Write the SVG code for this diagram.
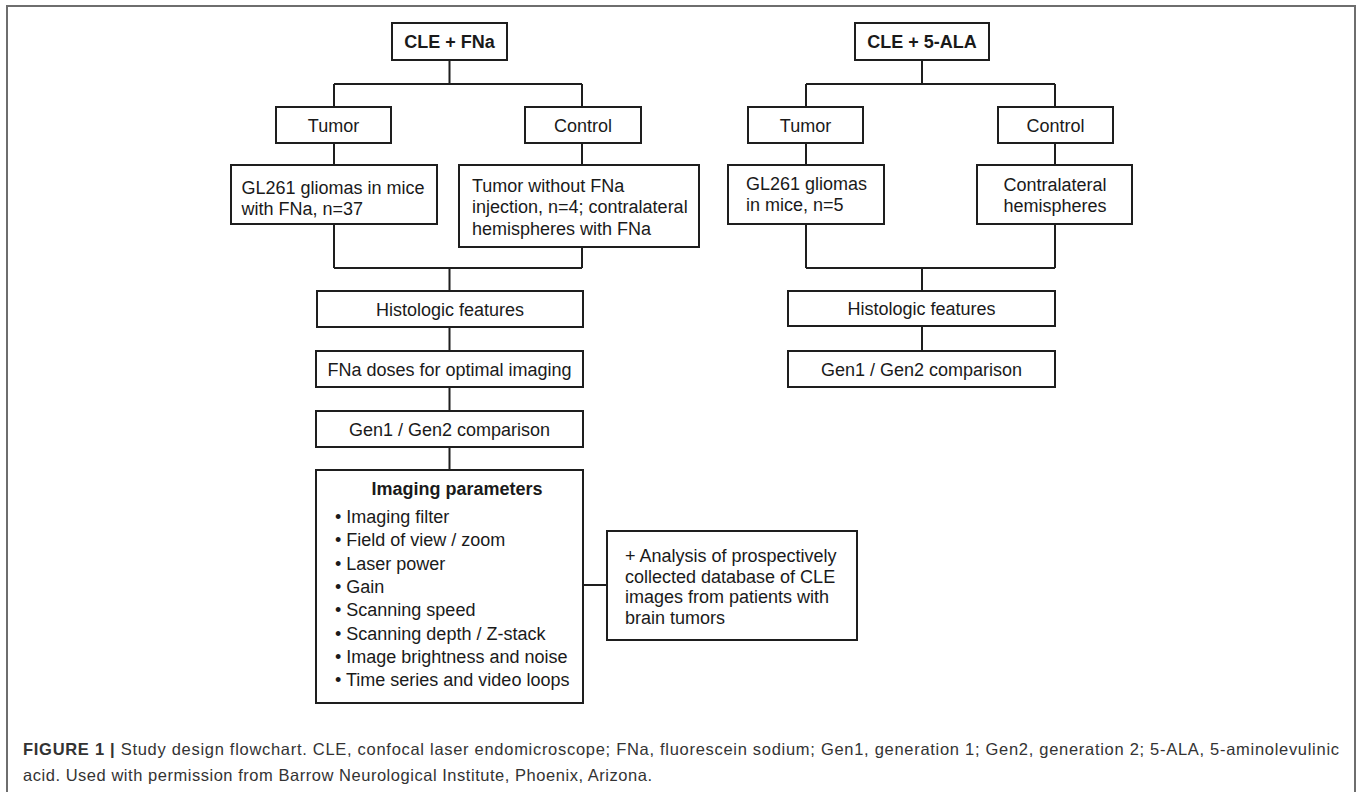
<svg xmlns="http://www.w3.org/2000/svg" width="1357" height="792" viewBox="0 0 1357 792">
<style>
.box{fill:#fff;stroke:#1e1e1e;stroke-width:2}
.ln{fill:none;stroke:#1e1e1e;stroke-width:2}
.t{font-family:"Liberation Sans",Arial,sans-serif;font-size:18px;fill:#1a1a1a}
.c{text-anchor:middle}
.b{font-weight:bold}
.cap{font-family:"Liberation Sans",Arial,sans-serif;font-size:16.5px;fill:#333}
</style>
<rect x="0" y="0" width="1357" height="792" fill="#fff"/>
<rect x="7" y="6" width="1348" height="800" fill="none" stroke="#6e6e6e" stroke-width="2"/>
<g id="connectors">
<path class="ln" d="M449.5 60V84M334 84H582M334 84V107M582 84V107M334 143V165M582 143V165M334 224V268M582 247V268M334 268H582M449.5 268V291M449.5 327V351M449.5 387V411M449.5 447V470M583 585H607"/>
<path class="ln" d="M922 60V84M806 84H1055M806 84V107M1055 84V107M806 143V165M1055 143V165M806 224V268M1055 224V268M806 268H1055M922 268V291M922 326V351"/>
</g>
<g id="cle-fna"><rect class="box" x="392" y="23" width="115" height="37"/><text class="t c b" x="449.5" y="48">CLE + FNa</text></g>
<g id="tumor-l"><rect class="box" x="276" y="107" width="115" height="36"/><text class="t c" x="333.5" y="131.5">Tumor</text></g>
<g id="control-l"><rect class="box" x="525" y="107" width="116" height="36"/><text class="t c" x="583" y="131.5">Control</text></g>
<g id="gl261-l"><rect class="box" x="231" y="165" width="206" height="59"/><text class="t" x="241.5" y="193.5">GL261 gliomas in mice</text><text class="t" x="241.5" y="214.5">with FNa, n=37</text></g>
<g id="control-text-l"><rect class="box" x="459" y="165" width="240" height="82"/><text class="t" x="472" y="191.5">Tumor without FNa</text><text class="t" x="472" y="213">injection, n=4; contralateral</text><text class="t" x="472" y="234.5">hemispheres with FNa</text></g>
<g id="histo-l"><rect class="box" x="317" y="291" width="266" height="36"/><text class="t c" x="450" y="315.5">Histologic features</text></g>
<g id="doses"><rect class="box" x="316" y="351" width="267" height="36"/><text class="t c" x="449.5" y="375.5">FNa doses for optimal imaging</text></g>
<g id="gen-l"><rect class="box" x="316" y="411" width="267" height="36"/><text class="t c" x="449.5" y="435.5">Gen1 / Gen2 comparison</text></g>
<g id="imaging"><rect class="box" x="316" y="470" width="267" height="233"/>
<text class="t b" x="371.5" y="495">Imaging parameters</text>
<text class="t" x="335" y="523">• Imaging filter</text>
<text class="t" x="335" y="546.3">• Field of view / zoom</text>
<text class="t" x="335" y="569.6">• Laser power</text>
<text class="t" x="335" y="592.9">• Gain</text>
<text class="t" x="335" y="616.2">• Scanning speed</text>
<text class="t" x="335" y="639.5">• Scanning depth / Z-stack</text>
<text class="t" x="335" y="662.8">• Image brightness and noise</text>
<text class="t" x="335" y="686">• Time series and video loops</text>
</g>
<g id="analysis"><rect class="box" x="607" y="531" width="250" height="109"/>
<text class="t" x="625" y="562">+ Analysis of prospectively</text>
<text class="t" x="625" y="582.5">collected database of CLE</text>
<text class="t" x="625" y="603">images from patients with</text>
<text class="t" x="625" y="623.5">brain tumors</text>
</g>
<g id="cle-ala"><rect class="box" x="855" y="23" width="134" height="37"/><text class="t c b" x="922" y="48">CLE + 5-ALA</text></g>
<g id="tumor-r"><rect class="box" x="748" y="107" width="115" height="36"/><text class="t c" x="805.5" y="131.5">Tumor</text></g>
<g id="control-r"><rect class="box" x="998" y="107" width="115" height="36"/><text class="t c" x="1055.5" y="131.5">Control</text></g>
<g id="gl261-r"><rect class="box" x="728" y="165" width="156" height="59"/><text class="t" x="746" y="189.5">GL261 gliomas</text><text class="t" x="746" y="210.5">in mice, n=5</text></g>
<g id="contra-r"><rect class="box" x="977" y="165" width="155" height="59"/><text class="t c" x="1055" y="190.5">Contralateral</text><text class="t c" x="1055" y="212">hemispheres</text></g>
<g id="histo-r"><rect class="box" x="788" y="291" width="267" height="35"/><text class="t c" x="921.5" y="314.5">Histologic features</text></g>
<g id="gen-r"><rect class="box" x="788" y="351" width="267" height="36"/><text class="t c" x="921.5" y="375.5">Gen1 / Gen2 comparison</text></g>
<g id="caption">
<text class="cap" x="23" y="755" textLength="1316" lengthAdjust="spacing"><tspan font-weight="bold">FIGURE 1 |</tspan> Study design flowchart. CLE, confocal laser endomicroscope; FNa, fluorescein sodium; Gen1, generation 1; Gen2, generation 2; 5-ALA, 5-aminolevulinic</text>
<text class="cap" x="23" y="781" textLength="629" lengthAdjust="spacing">acid. Used with permission from Barrow Neurological Institute, Phoenix, Arizona.</text>
</g>
</svg>
